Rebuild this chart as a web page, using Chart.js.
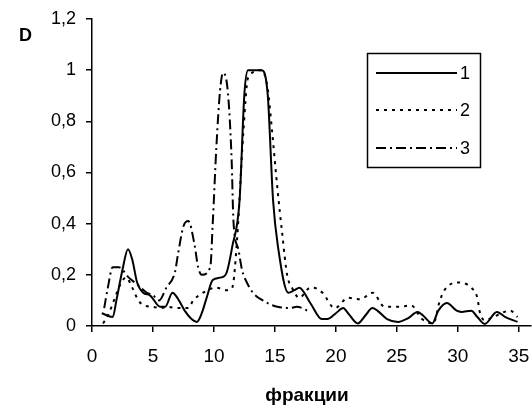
<!DOCTYPE html>
<html>
<head>
<meta charset="utf-8">
<script src="https://cdn.jsdelivr.net/npm/chart.js@4"></script>
<style>
  html, body { margin: 0; padding: 0; background: #fff; }
  #wrap { width: 532px; height: 409px; }
</style>
</head>
<body>
<div id="wrap"><canvas id="chart" width="532" height="409"></canvas></div>
<script>
// D по фракциям, три образца
const seriesNames = ['1', '2', '3'];
const xTicks = [0, 5, 10, 15, 20, 25, 30, 35];
const yTicks = [0, 0.2, 0.4, 0.6, 0.8, 1, 1.2];

const x1 = [0.8, 1.7, 2.0, 2.5, 2.95, 3.3, 3.7, 4.2, 4.75, 5.6, 6.0, 6.6, 7.0, 7.6, 8.1, 8.6, 9.0, 9.4, 9.9, 10.6, 11.05, 11.5, 12.1, 12.5, 12.8, 13.9, 14.4, 14.85, 15.25, 16.1, 16.6, 17.0, 17.9, 18.85, 19.3, 20.0, 20.6, 21.0, 21.8, 22.4, 23.0, 23.4, 24.2, 25.1, 25.9, 26.7, 27.1, 27.9, 28.4, 29.1, 29.9, 30.3, 31.1, 31.6, 32.2, 33.2, 33.9, 34.9];
const y1 = [0.05, 0.035, 0.1, 0.22, 0.30, 0.26, 0.17, 0.13, 0.12, 0.075, 0.075, 0.13, 0.11, 0.06, 0.03, 0.016, 0.05, 0.11, 0.18, 0.19, 0.21, 0.31, 0.49, 0.91, 1.0, 1.0, 0.91, 0.49, 0.31, 0.13, 0.14, 0.15, 0.09, 0.027, 0.027, 0.05, 0.07, 0.05, 0.01, 0.04, 0.07, 0.06, 0.027, 0.016, 0.03, 0.055, 0.043, 0.01, 0.06, 0.09, 0.06, 0.055, 0.06, 0.035, 0.008, 0.055, 0.035, 0.016];

const x2 = [0.9, 1.3, 1.8, 2.3, 2.8, 3.3, 3.8, 4.3, 5.0, 5.6, 6.2, 7.0, 7.9, 8.3, 9.5, 10.1, 11.1, 11.5, 11.9, 12.4, 12.8, 13.9, 14.4, 14.75, 15.2, 15.6, 16.0, 16.4, 17.0, 17.9, 18.1, 18.9, 19.9, 21.0, 22.0, 23.0, 24.0, 25.1, 26.2, 27.0, 28.0, 28.5, 28.9, 30.0, 31.1, 31.6, 31.8, 32.2, 32.9, 34.3, 34.9];
const y2 = [0.01, 0.04, 0.1, 0.16, 0.19, 0.15, 0.1, 0.08, 0.075, 0.07, 0.075, 0.07, 0.07, 0.1, 0.14, 0.15, 0.14, 0.15, 0.34, 0.75, 0.97, 1.0, 0.93, 0.77, 0.54, 0.36, 0.2, 0.15, 0.11, 0.15, 0.15, 0.13, 0.07, 0.11, 0.105, 0.13, 0.075, 0.075, 0.08, 0.03, 0.01, 0.095, 0.14, 0.17, 0.15, 0.11, 0.055, 0.023, 0.035, 0.06, 0.035];

const x3 = [1.0, 1.3, 1.7, 2.2, 3.0, 3.5, 4.0, 4.5, 5.0, 5.5, 6.1, 6.8, 7.05, 7.5, 7.9, 8.4, 8.7, 9.0, 9.7, 9.9, 10.2, 10.5, 10.75, 11.15, 11.45, 11.6, 12.0, 12.3, 12.7, 13.2, 14.0, 14.85, 15.2, 16.2, 16.8, 17.9];
const y3 = [0.07, 0.15, 0.23, 0.23, 0.19, 0.17, 0.15, 0.13, 0.12, 0.1, 0.15, 0.21, 0.28, 0.39, 0.41, 0.32, 0.23, 0.2, 0.23, 0.4, 0.7, 0.92, 0.99, 0.91, 0.65, 0.41, 0.3, 0.22, 0.17, 0.13, 0.1, 0.08, 0.075, 0.07, 0.075, 0.055];

const dashes = [[], [3, 5], [10, 4, 2, 4]];
const pts = (xs, ys) => xs.map((x, i) => ({ x, y: ys[i] }));
const font = '"Liberation Sans", Arial, sans-serif';

// подписи "D", "фракции" и легенда в рамке
const extras = {
  id: 'extras',
  afterDraw(chart) {
    const ctx = chart.ctx;
    ctx.save();
    ctx.fillStyle = '#000';
    ctx.font = 'bold 18px ' + font;
    ctx.textAlign = 'left';
    ctx.textBaseline = 'middle';
    ctx.fillText('D', 19, 36);
    ctx.font = 'bold 19px ' + font;
    ctx.textAlign = 'center';
    ctx.fillText('фракции', 307, 396);

    ctx.lineWidth = 1.5;
    ctx.strokeStyle = '#000';
    ctx.setLineDash([]);
    ctx.strokeRect(367.5, 53.5, 113, 114);
    ctx.font = '18px ' + font;
    ctx.textAlign = 'left';
    const rows = [73, 110, 148];
    chart.data.datasets.forEach((ds, i) => {
      ctx.lineWidth = 2;
      ctx.setLineDash(ds.borderDash || []);
      ctx.beginPath();
      ctx.moveTo(376, rows[i]);
      ctx.lineTo(457, rows[i]);
      ctx.stroke();
      ctx.setLineDash([]);
      ctx.fillText(ds.label, 460, rows[i] + 1);
    });
    ctx.restore();
  }
};

new Chart(document.getElementById('chart'), {
  type: 'line',
  data: {
    datasets: [pts(x1, y1), pts(x2, y2), pts(x3, y3)].map((d, i) => ({
      label: seriesNames[i],
      data: d,
      borderColor: '#000',
      borderWidth: 2,
      borderDash: dashes[i],
      pointRadius: 0,
      fill: false,
      cubicInterpolationMode: 'monotone',
    })),
  },
  options: {
    responsive: false,
    animation: false,
    layout: { padding: { top: 19, right: 1, left: 0, bottom: 0 } },
    plugins: { legend: { display: false }, tooltip: { enabled: false } },
    scales: {
      x: {
        type: 'linear',
        min: 0, max: 36,
        afterBuildTicks: s => { s.ticks = xTicks.map(v => ({ value: v })); },
        afterFit: s => { s.height = 83; s.paddingLeft = 0; s.paddingRight = 0; },
        border: { color: '#000', width: 1.5 },
        grid: { drawOnChartArea: false, color: '#000', tickLength: 6, lineWidth: 1.5 },
        ticks: { color: '#000', font: { family: font, size: 19 }, padding: 13, maxRotation: 0 },
      },
      y: {
        min: 0, max: 1.2,
        afterBuildTicks: s => { s.ticks = yTicks.map(v => ({ value: v })); },
        afterFit: s => { s.width = 92; s.paddingTop = 0; s.paddingBottom = 0; },
        border: { color: '#000', width: 1.5 },
        grid: { drawOnChartArea: false, color: '#000', tickLength: 6, lineWidth: 1.5 },
        ticks: {
          color: '#000', font: { family: font, size: 18 }, padding: 10,
          callback: v => String(Number(v.toFixed(1))).replace('.', ','),
        },
      },
    },
  },
  plugins: [extras],
});
</script>
</body>
</html>
